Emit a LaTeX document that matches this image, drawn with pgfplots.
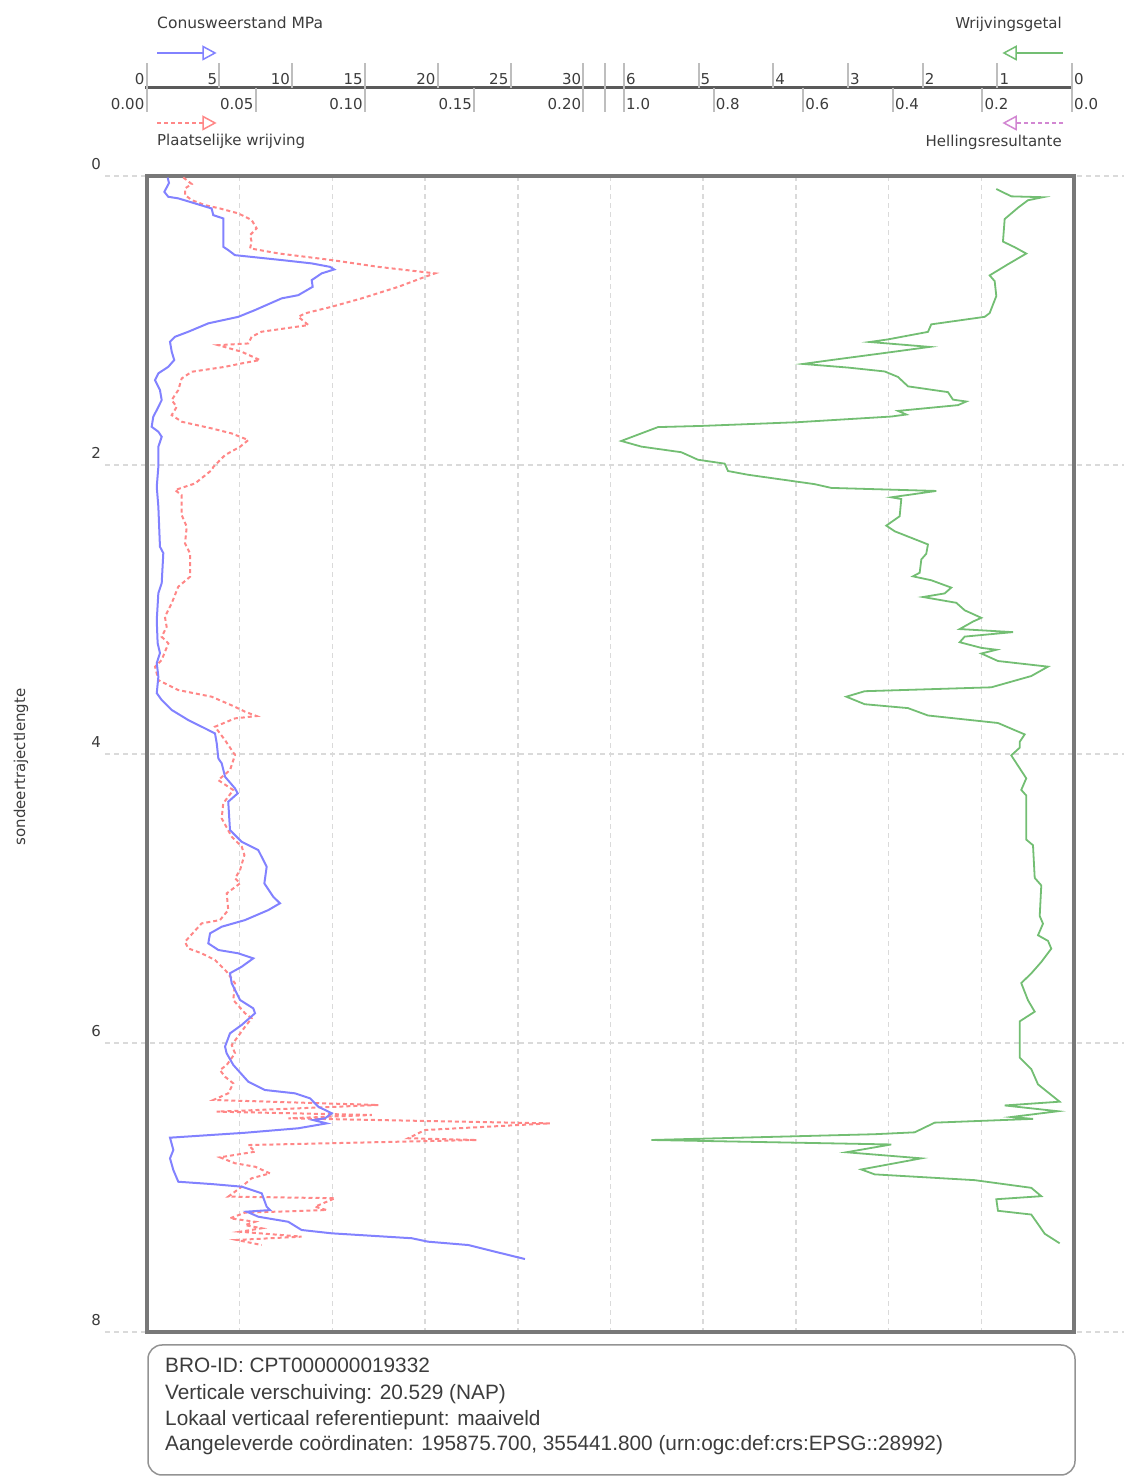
\documentclass[border=0pt]{standalone}
\usepackage{pgfplots}
\pgfplotsset{compat=1.18}
\usepackage{fontspec}
\setmainfont{DejaVu Sans}
\newfontfamily\infofont{Liberation Sans}
\definecolor{cqc}{RGB}{130,130,255}
\definecolor{cfs}{RGB}{255,135,135}
\definecolor{crf}{RGB}{115,190,115}
\definecolor{chl}{RGB}{210,135,210}
\definecolor{cframe}{RGB}{120,120,120}
\definecolor{cgrid}{RGB}{218,218,218}
\definecolor{ctxt}{RGB}{60,60,60}
\definecolor{ctick}{RGB}{190,190,190}
\definecolor{caxis}{RGB}{90,90,90}
\pgfplotsset{
  boxax/.style={at={(147pt,144pt)}, anchor=south west, width=927pt, height=1156pt,
    scale only axis, ymin=0, ymax=8, y dir=reverse},
  hid/.style={boxax, hide axis},
}
\begin{document}
\begin{tikzpicture}
\path[use as bounding box] (0pt,0pt) rectangle (1124pt,1476pt);
\fontsize{15pt}{18pt}\selectfont
% extended horizontal grid
\begin{axis}[at={(105pt,144pt)}, anchor=south west, width=1019pt, height=1156pt,
  scale only axis, xmin=0, xmax=1, ymin=0, ymax=8, y dir=reverse,
  axis line style={draw=none}, xtick=\empty, ytick={0,2,4,6,8}, yticklabels={},
  major tick length=0pt, ymajorgrids,
  grid style={cgrid, line width=1.5pt, dash pattern=on 5pt off 4pt}]
\addplot[draw=none] coordinates {(0,0)(1,8)};
\end{axis}
% box with vertical grid
\begin{axis}[boxax, xmin=0, xmax=10, xtick={1,...,9}, xticklabels={}, ytick=\empty,
  major tick length=0pt, xmajorgrids,
  grid style={cgrid, line width=1.5pt, dash pattern=on 5pt off 4pt},
  axis line style={cframe, line width=3.5pt}]
\addplot[draw=none] coordinates {(0,0)(10,8)};
\end{axis}
% Rf (wrijvingsgetal)
\begin{axis}[hid, x dir=reverse, xmin=-0.027, xmax=12.383]
\addplot[crf, line width=1.8pt] coordinates {
(1.013,0.089)(0.813,0.140)(0.388,0.146)(0.589,0.167)(0.723,0.219)(0.901,0.297)(0.924,0.453)(0.767,0.492)(0.612,0.536)(0.857,0.610)(1.102,0.687)(1.035,0.727)(1.013,0.830)(1.102,0.948)(1.169,0.974)(1.884,1.026)(1.928,1.078)(2.463,1.130)(2.708,1.148)(1.905,1.182)(2.463,1.221)(3.222,1.273)(3.601,1.300)(2.999,1.325)(2.507,1.352)(2.329,1.390)(2.195,1.455)(1.660,1.495)(1.593,1.547)(1.415,1.560)(1.526,1.585)(2.329,1.625)(2.218,1.650)(2.419,1.664)(3.668,1.703)(4.963,1.729)(5.542,1.737)(6.034,1.833)(5.766,1.872)(5.230,1.911)(5.007,1.963)(4.649,1.990)(4.605,2.041)(4.337,2.067)(3.444,2.132)(3.222,2.158)(1.817,2.179)(2.419,2.223)(2.285,2.235)(2.307,2.354)(2.486,2.419)(2.374,2.458)(1.928,2.549)(1.951,2.614)(2.017,2.653)(2.039,2.745)(2.129,2.770)(1.884,2.797)(1.616,2.848)(1.704,2.888)(1.995,2.913)(1.549,2.953)(1.436,3.005)(1.214,3.057)(1.325,3.083)(1.503,3.135)(0.790,3.156)(1.436,3.187)(1.503,3.226)(1.214,3.265)(1.013,3.278)(1.214,3.304)(0.991,3.356)(0.321,3.395)(0.545,3.460)(1.080,3.538)(2.775,3.565)(3.021,3.603)(2.775,3.655)(2.195,3.682)(1.928,3.733)(0.991,3.785)(0.633,3.864)(0.700,3.916)(0.700,3.956)(0.813,4.009)(0.679,4.115)(0.612,4.168)(0.679,4.248)(0.612,4.287)(0.612,4.592)(0.522,4.631)(0.499,4.857)(0.411,4.909)(0.432,5.121)(0.388,5.174)(0.455,5.254)(0.321,5.293)(0.277,5.347)(0.411,5.439)(0.545,5.518)(0.679,5.585)(0.589,5.704)(0.499,5.783)(0.700,5.850)(0.700,6.101)(0.545,6.180)(0.455,6.286)(0.165,6.406)(0.901,6.432)(0.187,6.472)(0.813,6.512)(0.522,6.525)(1.838,6.551)(2.106,6.618)(2.641,6.631)(5.632,6.671)(2.419,6.702)(3.021,6.756)(2.017,6.798)(2.821,6.875)(2.641,6.909)(1.303,6.949)(0.545,7.002)(0.411,7.060)(1.013,7.081)(0.991,7.161)(0.545,7.187)(0.455,7.253)(0.365,7.320)(0.165,7.386)};
\end{axis}
% fs (plaatselijke wrijving)
\begin{axis}[hid, xmin=0, xmax=0.42445]
\addplot[cfs, line width=2pt, dash pattern=on 4pt off 3pt] coordinates {
(0.0166,0.009)(0.0205,0.055)(0.0174,0.085)(0.0174,0.131)(0.0205,0.166)(0.0266,0.201)(0.0334,0.224)(0.0418,0.258)(0.0479,0.304)(0.0502,0.362)(0.0472,0.408)(0.0479,0.455)(0.0472,0.500)(0.0601,0.535)(0.0846,0.581)(0.1059,0.628)(0.1319,0.673)(0.1273,0.697)(0.1151,0.766)(0.0983,0.846)(0.0846,0.904)(0.0723,0.950)(0.0693,0.974)(0.0739,1.031)(0.0632,1.054)(0.0525,1.077)(0.0479,1.112)(0.0464,1.158)(0.0326,1.170)(0.0434,1.216)(0.0517,1.273)(0.0434,1.296)(0.0357,1.320)(0.0205,1.354)(0.0159,1.400)(0.0143,1.481)(0.0113,1.550)(0.0136,1.597)(0.0113,1.654)(0.0159,1.700)(0.0296,1.746)(0.0388,1.781)(0.0464,1.827)(0.0426,1.873)(0.0357,1.931)(0.0304,2.012)(0.0296,2.035)(0.0220,2.127)(0.0128,2.173)(0.0159,2.208)(0.0159,2.346)(0.0182,2.427)(0.0174,2.542)(0.0197,2.611)(0.0197,2.773)(0.0143,2.842)(0.0113,2.957)(0.0082,3.050)(0.0090,3.119)(0.0067,3.188)(0.0098,3.234)(0.0067,3.349)(0.0037,3.396)(0.0052,3.488)(0.0143,3.557)(0.0296,3.603)(0.0403,3.673)(0.0449,3.707)(0.0502,3.737)(0.0403,3.753)(0.0311,3.811)(0.0357,3.903)(0.0403,4.007)(0.0380,4.111)(0.0326,4.180)(0.0395,4.249)(0.0349,4.341)(0.0342,4.445)(0.0388,4.572)(0.0434,4.641)(0.0446,4.699)(0.0426,4.803)(0.0403,4.860)(0.0426,4.895)(0.0365,4.964)(0.0372,5.080)(0.0334,5.149)(0.0250,5.172)(0.0174,5.299)(0.0189,5.345)(0.0250,5.379)(0.0311,5.425)(0.0365,5.507)(0.0403,5.587)(0.0395,5.702)(0.0449,5.794)(0.0479,5.829)(0.0449,5.887)(0.0388,6.014)(0.0403,6.071)(0.0365,6.152)(0.0334,6.187)(0.0357,6.233)(0.0395,6.279)(0.0372,6.348)(0.0304,6.394)(0.1059,6.429)(0.0319,6.475)(0.1029,6.498)(0.0647,6.521)(0.1845,6.556)(0.1273,6.602)(0.1196,6.659)(0.1510,6.671)(0.0464,6.706)(0.0495,6.752)(0.0334,6.791)(0.0403,6.832)(0.0495,6.856)(0.0563,6.902)(0.0479,6.936)(0.0434,6.994)(0.0372,7.063)(0.0861,7.074)(0.0769,7.133)(0.0823,7.156)(0.0449,7.174)(0.0380,7.213)(0.0495,7.237)(0.0449,7.260)(0.0525,7.282)(0.0426,7.306)(0.0708,7.340)(0.0411,7.363)(0.0525,7.398)};
\end{axis}
% qc (conusweerstand)
\begin{axis}[hid, xmin=0, xmax=63.67]
\addplot[cqc, line width=2pt] coordinates {
(1.42,0.01)(1.51,0.048)(1.19,0.109)(1.46,0.143)(2.15,0.154)(3.30,0.189)(4.44,0.224)(4.55,0.270)(5.24,0.293)(5.24,0.489)(5.58,0.512)(6.04,0.547)(9.25,0.581)(11.31,0.604)(12.57,0.628)(12.86,0.646)(12.00,0.673)(11.31,0.720)(11.38,0.766)(10.39,0.824)(9.25,0.846)(7.42,0.927)(6.27,0.974)(4.21,1.019)(2.84,1.077)(1.92,1.112)(1.58,1.147)(1.70,1.216)(1.87,1.273)(1.46,1.320)(0.78,1.365)(0.55,1.412)(0.89,1.481)(1.01,1.550)(0.67,1.619)(0.43,1.666)(0.32,1.735)(0.78,1.769)(1.01,1.804)(0.78,1.873)(0.78,2.012)(0.67,2.150)(0.78,2.288)(0.89,2.565)(1.12,2.609)(1.01,2.817)(0.78,2.886)(0.67,3.073)(0.73,3.232)(0.89,3.301)(0.67,3.370)(0.78,3.465)(0.67,3.578)(1.01,3.626)(1.70,3.695)(2.84,3.765)(3.98,3.822)(4.67,3.857)(4.79,3.926)(4.90,4.030)(5.13,4.064)(5.36,4.157)(6.04,4.237)(6.23,4.272)(5.58,4.330)(5.70,4.526)(6.50,4.607)(7.64,4.664)(8.22,4.780)(8.06,4.895)(8.67,4.987)(9.13,5.033)(8.33,5.080)(6.73,5.149)(5.13,5.195)(4.33,5.241)(4.21,5.310)(4.90,5.356)(6.27,5.379)(7.30,5.414)(6.50,5.472)(5.70,5.517)(5.82,5.587)(6.39,5.702)(7.30,5.760)(7.42,5.794)(6.50,5.875)(5.70,5.933)(5.36,6.025)(5.47,6.071)(5.93,6.152)(6.96,6.268)(8.10,6.325)(10.16,6.348)(11.20,6.383)(11.77,6.441)(12.69,6.486)(12.23,6.521)(11.42,6.533)(12.34,6.556)(10.39,6.590)(6.73,6.621)(1.58,6.655)(1.81,6.740)(1.58,6.798)(1.81,6.879)(2.15,6.960)(4.44,6.976)(6.50,6.994)(7.88,7.040)(8.22,7.133)(8.45,7.156)(6.85,7.167)(7.64,7.202)(9.70,7.237)(10.62,7.294)(12.69,7.317)(18.18,7.351)(19.32,7.375)(22.07,7.398)(23.90,7.444)(25.96,7.495)};
\end{axis}
% ---- header scales ----
\draw[caxis, line width=3pt] (145pt,1388pt) -- (1073pt,1388pt);
\foreach \x/\l in {146.5/0,219.3/5,292.1/10,364.9/15,437.7/20,510.5/25,583.3/30}{
  \draw[ctick, line width=2pt] (\x pt,1388pt) -- (\x pt,1413pt);
  \node[anchor=base east, inner sep=0pt, text=ctxt] at (\x pt-2pt,1391pt) {\l};}
\foreach \x/\l in {146.5/0.00,255.7/0.05,364.9/0.10,474.1/0.15,583.3/0.20}{
  \draw[ctick, line width=2pt] (\x pt,1388pt) -- (\x pt,1364pt);
  \node[anchor=base east, inner sep=0pt, text=ctxt] at (\x pt-2pt,1366pt) {\l};}
\foreach \x/\l in {1072/0,997.3/1,922.6/2,847.9/3,773.2/4,698.5/5,623.8/6}{
  \draw[ctick, line width=2pt] (\x pt,1388pt) -- (\x pt,1413pt);
  \node[anchor=base west, inner sep=0pt, text=ctxt] at (\x pt+2pt,1391pt) {\l};}
\foreach \x/\l in {1072/0.0,982.4/0.2,892.8/0.4,803.2/0.6,713.6/0.8,624/1.0}{
  \draw[ctick, line width=2pt] (\x pt,1388pt) -- (\x pt,1364pt);
  \node[anchor=base west, inner sep=0pt, text=ctxt] at (\x pt+2pt,1366pt) {\l};}
\draw[ctick, line width=2pt] (605pt,1364pt) -- (605pt,1413pt);
% legend entries
\node[anchor=base west, inner sep=0pt, text=ctxt, font=\fontsize{15.5pt}{18pt}\selectfont] at (157pt,1447pt) {Conusweerstand MPa};
\draw[cqc, line width=2pt] (157pt,1423pt) -- (203pt,1423pt);
\draw[cqc, line width=1.5pt, fill=white] (203pt,1429.5pt) -- (215pt,1423pt) -- (203pt,1416.5pt) -- cycle;
\node[anchor=base west, inner sep=0pt, text=ctxt] at (157pt,1330pt) {Plaatselijke wrijving};
\draw[cfs, line width=2pt, dash pattern=on 4pt off 3pt] (157pt,1353pt) -- (203pt,1353pt);
\draw[cfs, line width=1.5pt, fill=white] (203pt,1359.5pt) -- (215pt,1353pt) -- (203pt,1346.5pt) -- cycle;
\node[anchor=base east, inner sep=0pt, text=ctxt] at (1062pt,1447pt) {Wrijvingsgetal};
\draw[crf, line width=2pt] (1063pt,1423pt) -- (1016pt,1423pt);
\draw[crf, line width=1.5pt, fill=white] (1016pt,1429.5pt) -- (1004pt,1423pt) -- (1016pt,1416.5pt) -- cycle;
\node[anchor=base east, inner sep=0pt, text=ctxt] at (1062pt,1329pt) {Hellingsresultante};
\draw[chl, line width=2pt, dash pattern=on 4pt off 3pt] (1063pt,1353pt) -- (1016pt,1353pt);
\draw[chl, line width=1.5pt, fill=white] (1016pt,1359.5pt) -- (1004pt,1353pt) -- (1016pt,1346.5pt) -- cycle;
% y ticks and label
\foreach \Y/\l in {1300/0,1011/2,722/4,433/6,144/8}{
  \node[anchor=base east, inner sep=0pt, text=ctxt] at (101pt,\Y pt+6pt) {\l};}
\node[rotate=90, inner sep=0pt, text=ctxt] at (21pt,709pt) {sondeertrajectlengte};
% info box
\draw[cframe!80, line width=1.5pt, rounded corners=14pt] (148pt,1pt) rectangle (1075pt,131pt);
\begin{scope}[every node/.style={anchor=base west, inner sep=0pt, text=ctxt, font=\infofont\fontsize{20.8pt}{24pt}\selectfont}]
\node at (165pt,103pt) {BRO-ID: CPT000000019332};
\node at (165pt,76pt) {Verticale verschuiving: 20.529 (NAP)};
\node at (165pt,50pt) {Lokaal verticaal referentiepunt: maaiveld};
\node at (165pt,25pt) {Aangeleverde coördinaten: 195875.700, 355441.800 (urn:ogc:def:crs:EPSG::28992)};
\end{scope}
\end{tikzpicture}
\end{document}
